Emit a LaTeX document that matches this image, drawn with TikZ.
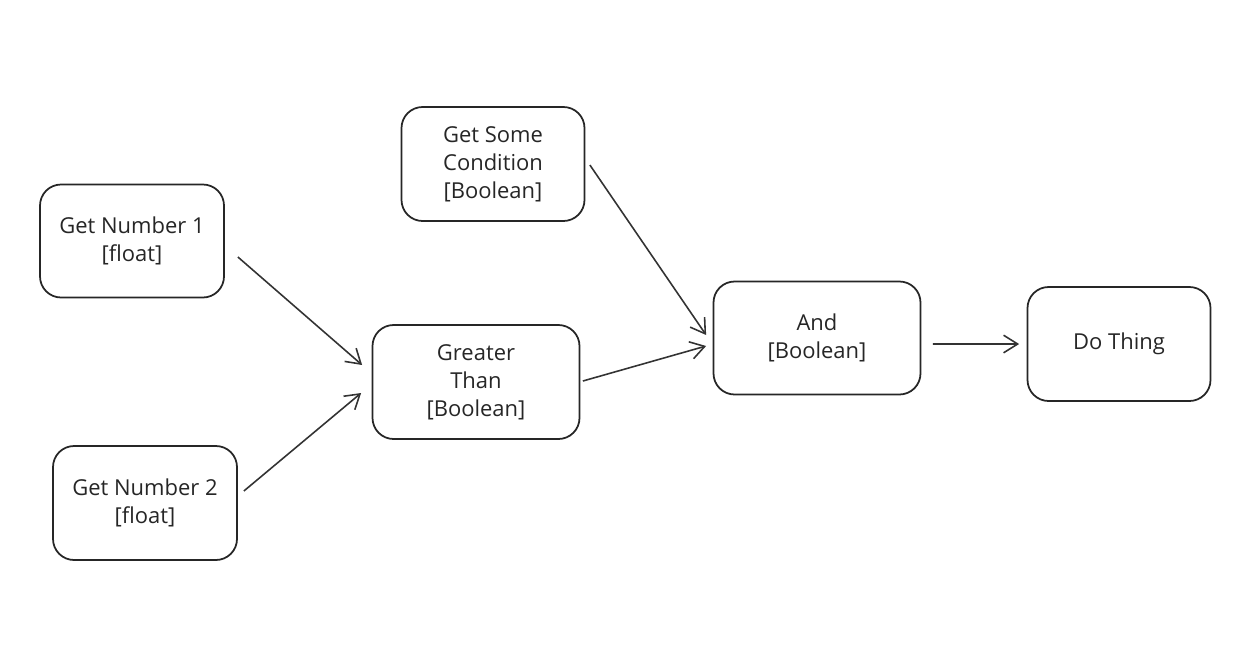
\documentclass[tikz,border=0pt]{standalone}
\usepackage{fontspec}
\setmainfont{Open Sans}
\usetikzlibrary{arrows.meta}
\begin{document}
\begin{tikzpicture}[>={Straight Barb[length=8pt,width=10pt]},
  blockbox/.style={draw=black!85, line width=1pt, rounded corners=12pt, align=center, inner sep=0pt,
    font=\fontsize{12.5}{16}\selectfont, text=black!85},
  link/.style={->, line width=0.9pt, draw=black!80}]
  \useasboundingbox (0,0) rectangle (25.12,-13.1);
  \node[blockbox, minimum width=3.68cm, minimum height=2.26cm] (num1) at (2.64,-4.82) {Get Number 1\\{}[float]};
  \node[blockbox, minimum width=3.68cm, minimum height=2.28cm] (num2) at (2.90,-10.06) {Get Number 2\\{}[float]};
  \node[blockbox, minimum width=3.66cm, minimum height=2.28cm] (cond) at (9.86,-3.28) {Get Some\\Condition\\{}[Boolean]};
  \node[blockbox, minimum width=4.14cm, minimum height=2.28cm] (greater) at (9.52,-7.64) {Greater\\Than\\{}[Boolean]};
  \node[blockbox, minimum width=4.14cm, minimum height=2.26cm] (and) at (16.34,-6.76) {And\\{}[Boolean]};
  \node[blockbox, minimum width=3.66cm, minimum height=2.28cm] (do) at (22.38,-6.88) {Do Thing};
  \draw[link] ([shift={(0.26,-0.32)}]num1.east) -- ([shift={(-0.19,0.34)}]greater.west);
  \draw[link] ([shift={(0.12,0.24)}]num2.east) -- ([shift={(-0.21,-0.22)}]greater.west);
  \draw[link] ([shift={(0.09,-0.02)}]cond.east) -- ([shift={(-0.13,0.06)}]and.west);
  \draw[link] ([shift={(0.05,0.02)}]greater.east) -- ([shift={(-0.13,-0.16)}]and.west);
  \draw[link] ([shift={(0.23,-0.12)}]and.east) -- ([shift={(-0.15,0)}]do.west);
\end{tikzpicture}
\end{document}
